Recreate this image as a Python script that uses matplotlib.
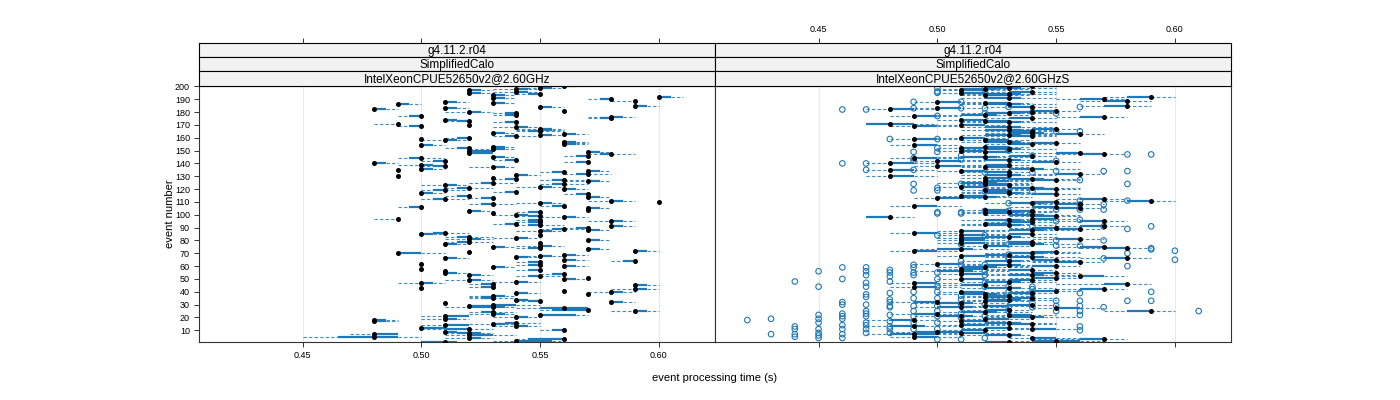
import numpy as np
import matplotlib.pyplot as plt

plt.rcParams['font.family'] = ['Liberation Sans', 'DejaVu Sans']

events = np.arange(1, 201)
xticks = [0.45, 0.50, 0.55, 0.60]
xtick_labels = ['0.45', '0.50', '0.55', '0.60']
strip_rows = ['g4.11.2.r04', 'SimplifiedCalo']
machines = ['IntelXeonCPUE52650v2@2.60GHz', 'IntelXeonCPUE52650v2@2.60GHzS']

# left panel, times in hundredths of a second (median, then offsets from it)
left_med = [51, 54, 56, 52, 48, 52, 48, 52, 51, 56, 52, 50, 54, 51, 53, 54, 48, 48, 51, 54,
            51, 55, 53, 53, 59, 57, 56, 53, 52, 53, 51, 58, 55, 54, 53, 53, 53, 57, 54, 58,
            56, 59, 50, 53, 59, 53, 50, 54, 52, 56, 57, 55, 52, 56, 51, 51, 55, 50, 53, 56,
            55, 50, 55, 59, 56, 51, 54, 55, 56, 49, 52, 59, 57, 55, 53, 55, 51, 55, 52, 57,
            52, 54, 52, 55, 50, 51, 55, 57, 56, 57, 58, 55, 54, 55, 58, 55, 49, 56, 55, 54,
            53, 55, 52, 57, 57, 50, 56, 53, 55, 60, 58, 51, 53, 57, 52, 57, 50, 54, 51, 56,
            52, 55, 51, 56, 53, 57, 56, 54, 53, 49, 54, 57, 56, 57, 49, 50, 53, 51, 50, 48,
            57, 51, 54, 50, 53, 57, 58, 52, 57, 52, 53, 52, 53, 50, 56, 56, 56, 51, 50, 52,
            54, 55, 56, 53, 55, 55, 55, 54, 50, 52, 49, 54, 52, 51, 58, 58, 50, 54, 54, 52,
            56, 48, 51, 55, 59, 49, 53, 51, 59, 58, 53, 60, 53, 55, 52, 54, 52, 54, 55, 56]
left_lo = [-3, -1, -2, -1, -3, -1, -1, -1, 0, -1, -2, 0, -1, -1, -1, -1, 0, 0, -1, -1,
           -1, 0, -1, -1, -1, -2, -2, -2, 0, -1, 0, 0, -1, 0, -1, -1, -1, 0, 0, -1,
           0, -1, 0, -1, 0, -1, -1, -1, -1, 0, 0, -1, 0, -1, 0, 0, -1, 0, 0, 0,
           -1, 0, -1, -1, 0, 0, 0, -1, 0, 0, 0, 0, 0, -1, 0, -1, 0, 0, -1, 0,
           -1, -1, -1, 0, 0, -1, -1, 0, -1, -1, 0, -1, -1, -1, -1, -1, -1, -1, -1, -1,
           0, -1, 0, 0, 0, -1, -1, -1, -1, 0, -1, -1, -1, 0, -1, -1, 0, -1, -1, 0,
           -1, -1, -1, -1, -1, -1, -1, -1, 0, 0, 0, -1, -1, 0, 0, 0, -1, -1, -1, 0,
           -1, -1, -1, -1, 0, -1, -1, 0, 0, 0, -1, -1, 0, 0, 0, 0, 0, -1, 0, -1,
           -1, 0, 0, 0, -1, -1, -1, -1, -1, 0, -1, -1, -1, 0, -1, -1, -1, -1, -1, -1,
           0, 0, 0, 0, 0, 0, 0, 0, -1, -1, 0, 0, 0, -1, 0, -1, 0, -1, -1, 0]
left_q1 = [-1, 0, -1.5, 0, -1.5, 0, 0, -0.5, 0, -0.5, -1, 0, 0, 0, 0, -0.5, 0, 0, 0, 0,
           0, 0, 0, -0.5, 0, -1.5, -1, -1, 0, 0, 0, 0, -0.5, 0, -0.5, -0.5, 0, 0, 0, 0,
           0, 0, 0, -0.5, 0, -0.5, 0, 0, 0, 0, 0, -0.5, 0, -0.5, 0, 0, -0.5, 0, 0, 0,
           -0.5, 0, -0.5, -0.5, 0, 0, 0, 0, 0, 0, 0, 0, 0, -0.5, 0, 0, 0, 0, -0.5, 0,
           0, 0, -0.5, 0, 0, -0.5, 0, 0, -0.5, -0.5, 0, -0.5, -0.5, -0.5, 0, -0.5, 0, 0, -0.5, 0,
           0, -0.5, 0, 0, 0, -0.5, -0.5, -0.5, 0, 0, 0, -0.5, -0.5, 0, -0.5, -0.5, 0, -0.5, -0.5, 0,
           -0.5, 0, 0, -0.5, -0.5, 0, -0.5, -0.5, 0, 0, 0, -0.5, -0.5, 0, 0, 0, 0, -0.5, 0, 0,
           -0.5, -0.5, -0.5, -0.5, 0, -0.5, -0.5, 0, 0, 0, 0, -0.5, 0, 0, 0, 0, 0, 0, 0, -0.5,
           -0.5, 0, 0, 0, -0.5, 0, 0, 0, -0.5, 0, 0, -0.5, -0.5, 0, -0.5, 0, -0.5, -0.5, -0.5, 0,
           0, 0, 0, 0, 0, 0, 0, 0, 0, -0.5, 0, 0, 0, -0.5, 0, 0, 0, 0, 0, 0]
left_q3 = [0.5, 1.5, 0, 0.5, 1, 1, 1, 0.5, 0.5, 0, 0, 1, 0.5, 1, 0.5, 0, 0.5, 0.5, 0.5, 0.5,
           1, 1.5, 0.5, 0, 0.5, 0, 1, 0.5, 1, 1, 0, 0.5, 0, 0.5, 0, 0, 0.5, 0, 0.5, 0.5,
           0, 0.5, 0, 0, 0.5, 0, 0.5, 0.5, 0.5, 0.5, 0, 0, 0.5, 0, 0.5, 0, 0, 0, 0.5, 0.5,
           0, 0, 0, 0, 0.5, 0.5, 0.5, 0.5, 0.5, 1, 0, 0.5, 0.5, 0, 0.5, 0.5, 0.5, 0, 0, 0.5,
           0.5, 0.5, 0, 0, 0.5, 0, 0.5, 0.5, 0, 0, 0.5, 0, 0, 0, 0.5, 0, 0, 0.5, 0, 0.5,
           0, 0, 0.5, 0, 0.5, 0, 0, 0, 0.5, 0, 0.5, 0, 0, 0.5, 0, 0, 0.5, 0, 0, 0.5,
           0, 0.5, 0.5, 0, 0, 0.5, 0, 0, 0, 0, 0.5, 0, 0, 0.5, 0, 0.5, 0.5, 0, 0.5, 0.5,
           0, 0, 0, 0, 0.5, 0, 0, 1, 0.5, 1, 0.5, 0, 0.5, 0.5, 0.5, 0.5, 0.5, 0.5, 0, 0,
           0, 0.5, 0.5, 0.5, 0, 0.5, 0.5, 0.5, 0, 0, 0, 0, 0, 0.5, 0, 0.5, 0, 0, 0, 0.5,
           0, 0.5, 0.5, 0.5, 0.5, 0.5, 0.5, 0.5, 0, 0, 0.5, 0.5, 0.5, 0, 0.5, 0.5, 0.5, 0.5, 0.5, 0.5]
left_hi = [1, 2, 0, 1, 2, 2, 1, 1, 1, 0, 1, 1, 1, 1, 1, 1, 1, 1, 1, 1,
           1, 2, 1, 1, 1, 0, 1, 1, 1, 2, 0, 1, 0, 1, 1, 0, 1, 0, 1, 1,
           0, 1, 0, 0, 1, 0, 1, 1, 1, 1, 0, 1, 1, 0, 1, 0, 0, 0, 1, 1,
           0, 0, 0, 0, 1, 1, 1, 1, 1, 2, 0, 1, 1, 0, 1, 1, 1, 0, 1, 1,
           1, 1, 1, 0, 1, 1, 1, 1, 1, 0, 1, 1, 0, 0, 1, 0, 0, 1, 0, 1,
           0, 0, 1, 0, 1, 0, 0, 1, 1, 0, 1, 1, 0, 1, 0, 0, 1, 0, 1, 1,
           1, 1, 1, 1, 1, 1, 1, 0, 0, 0, 1, 1, 0, 1, 0, 1, 1, 0, 1, 1,
           0, 0, 0, 1, 1, 0, 1, 1, 1, 1, 1, 0, 1, 1, 1, 1, 1, 1, 0, 0,
           1, 1, 1, 1, 1, 1, 1, 1, 0, 0, 0, 0, 0, 1, 0, 1, 0, 0, 0, 1,
           0, 1, 1, 1, 1, 1, 1, 1, 0, 0, 1, 1, 1, 0, 1, 1, 1, 1, 1, 1]

# right panel
right_med = [53, 55, 57, 54, 49, 53, 49, 51, 50, 52, 54, 53, 49, 51, 54, 53, 51, 49, 52, 54,
             51, 53, 50, 52, 59, 53, 55, 51, 52, 54, 51, 50, 52, 53, 54, 52, 53, 52, 54, 51,
             55, 57, 53, 49, 52, 58, 49, 53, 54, 51, 55, 56, 54, 51, 55, 51, 54, 51, 52, 55,
             53, 50, 56, 53, 55, 58, 54, 51, 53, 54, 55, 49, 51, 58, 57, 52, 54, 51, 54, 51,
             56, 51, 53, 51, 54, 49, 51, 54, 56, 55, 57, 53, 52, 54, 57, 53, 54, 48, 55, 54,
             52, 53, 54, 52, 56, 55, 49, 56, 54, 55, 59, 57, 50, 52, 51, 55, 53, 53, 52, 55,
             54, 51, 53, 52, 52, 52, 55, 54, 52, 48, 53, 56, 53, 51, 48, 54, 52, 50, 53, 48,
             55, 50, 53, 49, 52, 54, 57, 56, 52, 51, 53, 51, 52, 49, 54, 55, 53, 52, 49, 51,
             54, 53, 56, 54, 54, 53, 55, 53, 49, 51, 48, 53, 52, 51, 54, 57, 49, 52, 53, 54,
             55, 48, 50, 54, 58, 53, 52, 50, 58, 57, 53, 59, 52, 53, 51, 54, 51, 52, 53, 54]
right_lo = [-2, -2, -3, -1, -1, -2, -2, -1, -2, -2, -1, -2, -2, -1, -2, -2, -1, -2, -1, -2,
            -2, -1, -2, -2, -2, -2, -1, -2, -1, -2, -2, -2, -1, -2, -2, -1, -2, -2, -2, -1,
            -2, -2, -2, -1, -2, -3, -1, -2, -2, -1, -2, -1, -2, -1, -2, -2, -2, -1, -2, -2,
            -2, -1, -2, -2, -2, -2, -2, -1, -2, -2, -2, -1, -2, -2, -2, -1, -2, -1, -2, -1,
            -2, -1, -2, -1, -2, -1, -1, -2, -2, -2, -2, -2, -1, -2, -2, -2, -1, -1, -2, -2,
            -1, -2, -2, -1, -2, -2, -1, -2, -2, -2, -2, -2, -1, -2, -1, -2, -2, -2, -1, -2,
            -2, -1, -2, -1, -2, -1, -2, -2, -1, -1, -2, -2, -2, -1, -1, -2, -1, -1, -2, -1,
            -2, -1, -2, -1, -2, -2, -2, -2, -1, -1, -2, -1, -1, -1, -2, -2, -2, -1, -1, -1,
            -2, -2, -2, -2, -2, -2, -2, -2, -1, -1, -1, -2, -1, -1, -2, -2, -1, -2, -2, -2,
            -2, -1, -1, -2, -2, -2, -1, -1, -2, -2, -2, -2, -1, -2, -1, -2, -1, -2, -2, -2]
right_q1 = [-1, -1, -1, 0, 0, -1, -1, 0, -1, -1, 0, -1, -1, 0, -1, -1, 0, -1, 0, -1,
            -1, 0, -1, -1, -1, -1, 0, -1, 0, -1, -1, -1, 0, -1, -1, 0, -1, -1, -1, 0,
            -1, -1, -1, 0, -1, -1, 0, -1, -1, 0, -1, 0, -1, 0, -1, -1, -1, 0, -1, -1,
            -1, 0, -1, -1, -1, -1, -1, 0, -1, -1, -1, 0, -1, -1, -1, 0, -1, 0, -1, 0,
            -1, 0, -1, 0, -1, 0, 0, -1, -1, -1, -1, -1, 0, -1, -1, -1, 0, -1, -1, -1,
            0, -1, -1, 0, -1, -1, 0, -1, -1, -1, -1, -1, 0, -1, 0, -1, -1, -1, 0, -1,
            -1, 0, -1, 0, -1, 0, -1, -1, 0, 0, -1, -1, -1, 0, 0, -1, 0, 0, -1, 0,
            -1, 0, -1, 0, -1, -1, -1, -1, 0, 0, -1, 0, 0, 0, -1, -1, -1, 0, 0, 0,
            -1, -1, -1, -1, -1, -1, -1, -1, 0, 0, -1, -1, 0, 0, -1, -1, 0, -1, -1, -1,
            -1, 0, 0, -1, -1, -1, 0, 0, -1, -1, -1, -1, 0, -1, 0, -1, 0, -1, -1, -1]
right_q3 = [0, 1, 0, 1, 1, 0.5, 1, 1, 1, 0, 1, 0, 0.5, 1, 0, 0.5, 1, 0, 1, 0.5,
            0.5, 1, 0, 0.5, 0, 0, 1, 0.5, 1, 0, 0.5, 0, 1, 0.5, 0, 1, 0, 0.5, 0, 1,
            0, 0, 0.5, 1, 0, 0, 1, 0.5, 0, 1, 0, 1, 0.5, 1, 0, 0.5, 0, 1, 0.5, 0,
            0.5, 1, 0, 0.5, 0, 0, 0.5, 1, 0, 0.5, 0, 1, 0.5, 0, 0, 1, 0.5, 1, 0, 1,
            0, 1, 0.5, 1, 0, 1, 1, 0.5, 0, 0, 0, 0.5, 1, 0, 0, 0.5, 1, 0, 0, 0.5,
            1, 0.5, 0, 1, 0, 0, 1, 0, 0.5, 0, 0, 0, 1, 0.5, 1, 0, 0.5, 0, 1, 0,
            0.5, 1, 0, 1, 0.5, 1, 0, 0.5, 1, 1, 0.5, 0, 0, 1, 1, 0.5, 1, 1, 0, 1,
            0, 1, 0.5, 1, 0.5, 0, 0, 0, 1, 1, 0.5, 1, 1, 1, 0, 0, 0.5, 1, 1, 1,
            0, 0.5, 0, 0.5, 0, 0.5, 0, 0.5, 1, 1, 1, 0.5, 1, 1, 0, 0, 1, 0.5, 0.5, 0,
            0, 1, 1, 0, 0, 0.5, 1, 1, 0, 0, 0.5, 0, 1, 0.5, 1, 0, 1, 0.5, 0.5, 0]
right_hi = [1, 2, 1, 2, 2, 1, 2, 2, 2, 1, 2, 1, 2, 2, 1, 2, 2, 1, 2, 2,
            2, 2, 1, 2, 1, 1, 2, 2, 2, 1, 2, 1, 2, 2, 1, 2, 1, 2, 1, 2,
            1, 1, 2, 2, 1, 1, 2, 2, 1, 2, 1, 2, 2, 2, 1, 2, 1, 2, 2, 1,
            2, 2, 1, 2, 1, 1, 2, 2, 1, 2, 1, 2, 2, 1, 1, 2, 2, 2, 1, 2,
            1, 2, 2, 2, 1, 2, 2, 2, 1, 1, 1, 2, 2, 1, 1, 2, 2, 1, 1, 2,
            2, 2, 1, 2, 1, 1, 2, 1, 2, 1, 1, 1, 2, 2, 2, 1, 2, 1, 2, 1,
            2, 2, 1, 2, 2, 2, 1, 2, 2, 2, 2, 1, 1, 2, 2, 2, 2, 2, 1, 2,
            1, 2, 2, 2, 2, 1, 1, 1, 2, 2, 2, 2, 2, 2, 1, 1, 2, 2, 2, 2,
            1, 2, 1, 2, 1, 2, 1, 2, 2, 2, 2, 2, 2, 2, 1, 1, 2, 2, 2, 1,
            1, 2, 2, 1, 1, 2, 2, 2, 1, 1, 2, 1, 2, 2, 2, 1, 2, 2, 2, 1]

# outlying runs in the right panel (event number, time in hundredths)
out_event = [18, 19, 7, 48, 13, 11, 7, 5,
             56, 44, 22, 19, 16, 11, 8, 6, 4,
             59, 50, 32, 30, 23, 21, 19, 14, 11, 7, 4,
             59, 56, 53, 47, 44, 38, 36, 30, 25, 23, 21, 16, 14, 11, 8,
             57, 55, 52, 48, 39, 34, 32, 29, 28, 22, 17, 13, 11, 8,
             61, 59, 55, 53, 40, 35, 29, 25, 21, 16, 11,
             55, 50, 44, 40, 35, 29, 25, 21, 16, 11, 3, 101, 84,
             77, 64, 61, 37, 34, 30, 23, 20, 3, 101,
             56, 53, 47, 44, 30, 21, 4, 84, 61,
             69, 67, 65, 44, 40, 28, 25, 95, 77,
             44, 42, 39, 35, 31, 28, 91,
             33, 29, 25, 95, 80, 76,
             39, 33, 29, 25, 22, 13, 10, 96, 76,
             66, 28, 91, 80,
             60, 33, 89, 70,
             73, 40, 33, 91, 74,
             72, 65, 25,
             140, 140, 135, 149, 144, 142, 135, 124, 119, 149, 121, 119, 102,
             146, 143, 124, 102, 133, 123, 118, 103, 150, 109, 103,
             146, 133, 118, 102, 142, 134, 104, 127, 111, 108, 104,
             134, 108, 104, 147, 134, 124, 111, 147,
             182, 182, 188, 183, 196, 199, 195, 177, 152, 159, 159,
             188, 183, 199, 195, 183, 179, 184, 151, 180, 179, 165, 184, 165]
out_value = [42, 43, 43, 44, 44, 44, 44, 44,
             45, 45, 45, 45, 45, 45, 45, 45, 45,
             46, 46, 46, 46, 46, 46, 46, 46, 46, 46, 46,
             47, 47, 47, 47, 47, 47, 47, 47, 47, 47, 47, 47, 47, 47, 47,
             48, 48, 48, 48, 48, 48, 48, 48, 48, 48, 48, 48, 48, 48,
             49, 49, 49, 49, 49, 49, 49, 49, 49, 49, 49,
             50, 50, 50, 50, 50, 50, 50, 50, 50, 50, 50, 50, 50,
             51, 51, 51, 51, 51, 51, 51, 51, 51, 51,
             52, 52, 52, 52, 52, 52, 52, 52, 52,
             53, 53, 53, 53, 53, 53, 53, 53, 53,
             54, 54, 54, 54, 54, 54, 54,
             55, 55, 55, 55, 55, 55,
             56, 56, 56, 56, 56, 56, 56, 56, 56,
             57, 57, 57, 57,
             58, 58, 58, 58,
             59, 59, 59, 59, 59,
             60, 60, 61,
             46, 47, 47, 49, 49, 49, 49, 49, 49, 50, 50, 50, 50,
             51, 51, 51, 51, 52, 52, 52, 52, 53, 53, 53,
             54, 54, 54, 54, 55, 55, 55, 56, 56, 56, 56,
             57, 57, 57, 58, 58, 58, 58, 59,
             46, 47, 49, 49, 50, 50, 50, 50, 50, 50, 48,
             51, 51, 52, 52, 52, 52, 53, 53, 54, 55, 55, 56, 56]

blue = '#1f78b8'
frame_col = '#333333'


def draw_panel(ax, med, lo, q1, q3, hi, oe=None, ov=None):
    med = np.array(med) / 100
    lo = med + np.array(lo) / 100
    q1 = med + np.array(q1) / 100
    q3 = med + np.array(q3) / 100
    hi = med + np.array(hi) / 100
    for v in xticks:
        ax.axvline(v, color='#e8e8e8', lw=0.8, zorder=0)
    ax.hlines(events, lo, q1, colors=blue, linestyles=(0, (3, 2)), lw=0.8, alpha=0.85)
    ax.hlines(events, q3, hi, colors=blue, linestyles=(0, (3, 2)), lw=0.8, alpha=0.85)
    ax.hlines(events, q1, q3, colors=blue, lw=1.6)
    if oe is not None:
        ax.scatter(np.array(ov) / 100, oe, s=16, facecolors='none',
                   edgecolors=blue, linewidths=0.8, zorder=3)
    ax.scatter(med, events, s=13, c='black', zorder=4, linewidths=0)
    ax.set_xlim(0.4064, 0.6236)
    ax.set_ylim(0.9, 200.3)
    for s in ax.spines.values():
        s.set_color(frame_col)
        s.set_linewidth(0.8)
    ax.set_xticks(xticks)
    ax.tick_params(direction='out', length=3.5, width=0.7, color=frame_col,
                   labelsize=6.5, pad=3)


fig = plt.figure(figsize=(14, 4), dpi=100)

x0s = [199 / 1400, 715 / 1400]
w = 516 / 1400
axes = []
for i in range(2):
    ax = fig.add_axes([x0s[i], 1 - 342 / 400, w, 256 / 400])
    axes.append(ax)

draw_panel(axes[0], left_med, left_lo, left_q1, left_q3, left_hi)
draw_panel(axes[1], right_med, right_lo, right_q1, right_q3, right_hi, out_event, out_value)

axes[0].set_xticklabels(xtick_labels)
axes[0].set_yticks(np.arange(10, 201, 10))
axes[0].tick_params(axis='y', labelsize=6.5)
axes[1].set_xticklabels([])
axes[1].set_yticks([])

# strips
row_px = [(43, 57), (57, 71), (71, 86)]
for i in range(2):
    texts = strip_rows + [machines[i]]
    for j, (top, bot) in enumerate(row_px):
        sax = fig.add_axes([x0s[i], 1 - bot / 400, w, (bot - top) / 400])
        sax.set_facecolor('#f2f2f2')
        sax.set_xlim(0.4064, 0.6236)
        sax.set_ylim(0, 1)
        sax.set_yticks([])
        for s in sax.spines.values():
            s.set_color('black')
            s.set_linewidth(0.8)
        sax.text(0.5, 0.45, texts[j], transform=sax.transAxes, ha='center',
                 va='center', fontsize=8.5)
        if j == 0:
            sax.set_xticks(xticks)
            sax.tick_params(axis='x', direction='out', length=3.5, width=0.7,
                            color=frame_col, top=True, bottom=False,
                            labelbottom=False, labeltop=(i == 1), labelsize=6.5, pad=3)
            sax.set_xticklabels(xtick_labels)
        else:
            sax.set_xticks([])

fig.text(715 / 1400, 1 - 378 / 400, 'event processing time (s)', ha='center',
         va='center', fontsize=8)
fig.text(170 / 1400, 1 - 214 / 400, 'event number', ha='center', va='center',
         rotation=90, fontsize=8)

fig.savefig('out.png', dpi=100)
